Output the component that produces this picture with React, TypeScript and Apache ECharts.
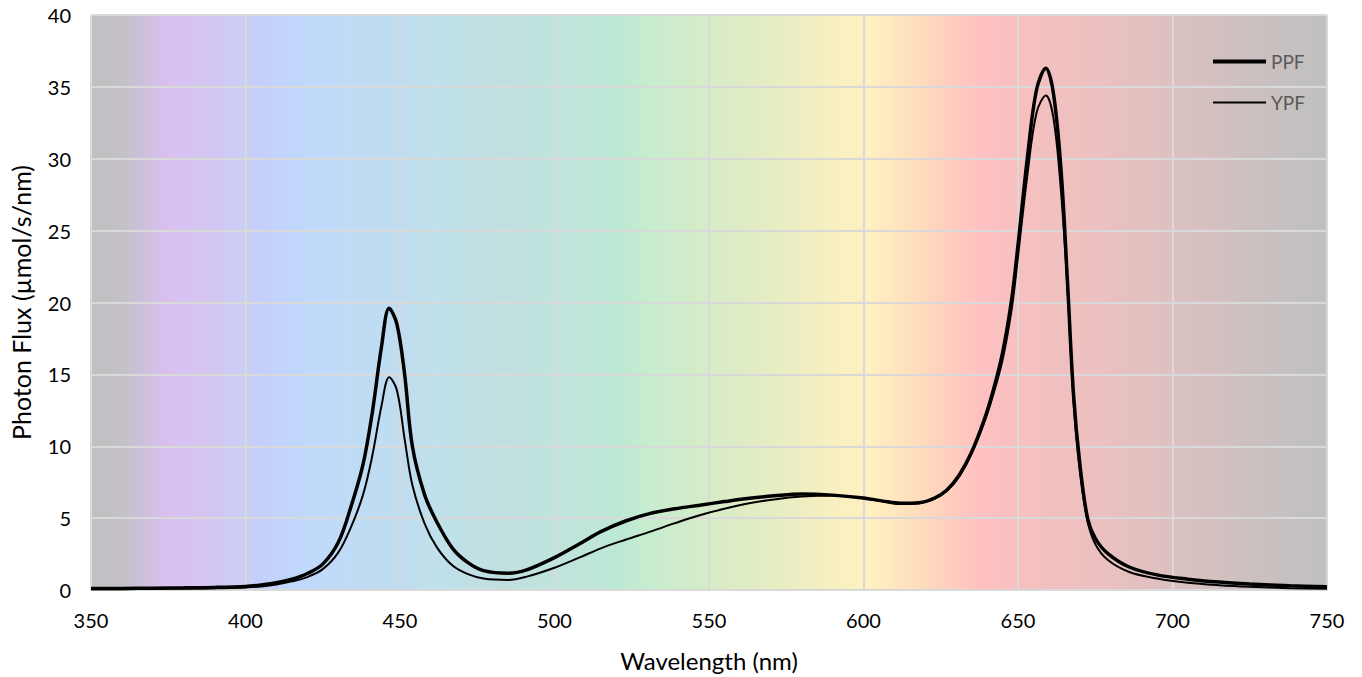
import React, { useEffect, useRef } from "react";
import * as echarts from "echarts";

const wavelengths = [350, 360, 370, 380, 390, 400, 405, 410, 415, 420, 425, 430, 434, 438, 441, 444, 446.5, 449, 451.5, 454, 458, 462, 467, 472, 477, 485, 491, 500, 508, 515, 523, 531, 539, 547, 555, 563, 571, 580, 590, 600, 606, 612, 618, 623, 627, 631, 635, 639, 642, 645, 648, 650, 653, 656, 659, 661.5, 664, 666, 668, 670, 672.5, 675, 679, 686, 695, 705, 715, 725, 738, 750];

const ppf = [0.1, 0.11, 0.13, 0.15, 0.18, 0.25, 0.35, 0.5, 0.75, 1.15, 1.8, 3.3, 5.7, 8.7, 12.3, 16.9, 19.6, 18.5, 15.0, 10.0, 6.6, 4.7, 2.9, 1.9, 1.35, 1.17, 1.4, 2.25, 3.2, 4.06, 4.8, 5.33, 5.65, 5.9, 6.15, 6.38, 6.55, 6.68, 6.6, 6.4, 6.2, 6.03, 6.07, 6.4, 6.96, 8.0, 9.6, 11.8, 13.9, 16.5, 20.3, 24.0, 30.0, 34.8, 36.3, 34.5, 29.0, 21.5, 13.5, 8.8, 5.0, 3.6, 2.55, 1.6, 1.05, 0.75, 0.55, 0.42, 0.3, 0.22];

const ypf = [0.05, 0.06, 0.07, 0.09, 0.12, 0.18, 0.25, 0.38, 0.6, 0.9, 1.45, 2.6, 4.3, 6.6, 9.3, 12.8, 14.8, 13.9, 10.5, 7.3, 4.6, 2.95, 1.7, 1.1, 0.8, 0.7, 0.93, 1.55, 2.25, 2.9, 3.5, 4.06, 4.65, 5.2, 5.65, 6.03, 6.3, 6.5, 6.58, 6.38, 6.18, 6.0, 6.04, 6.35, 6.9, 7.9, 9.5, 11.6, 13.6, 16.0, 19.6, 23.2, 28.8, 33.2, 34.4, 32.8, 27.5, 21.0, 13.0, 8.3, 4.8, 3.2, 2.1, 1.25, 0.8, 0.5, 0.33, 0.22, 0.13, 0.08];

const seriesNames = ["PPF", "YPF"];
const xTitle = "Wavelength (nm)";
const yTitle = "Photon Flux (µmol/s/nm)";

// spectrum background stops: [wavelength, colour]
const spectrumStops: [number, string][] = [
  [350, "#c0c0c0"], [360, "#c4c0c8"], [369, "#d0c0e0"], [375, "#d8c0f0"], [386, "#d4c4f0"],
  [398, "#ccccf4"], [405, "#c4d0fa"], [418, "#c0d8fc"], [437, "#c0dcf4"], [450, "#c0dcf0"],
  [460, "#c0e0ec"], [483, "#c0e0e0"], [502, "#c0e4dc"], [521, "#bce8d4"], [528, "#c4ecd0"],
  [547, "#d4ecc8"], [563, "#e0ecc4"], [580, "#eeeec2"], [590, "#f8f0c0"], [602, "#fef0c0"],
  [609, "#fee8c0"], [618, "#fedcbc"], [638, "#ffc0c0"], [648, "#f8c0c0"], [683, "#e8c0c0"],
  [702, "#dcc0c0"], [725, "#ccc0c0"], [741, "#c4c0c0"], [750, "#c0c0c0"],
];

const FONT = "Lato";

export default function App() {
  const ref = useRef<HTMLDivElement>(null);
  useEffect(() => {
    if (!ref.current) return;
    const chart = echarts.init(ref.current, null, { renderer: "svg" });
    const xmin = 350, xmax = 750;
    const grad = new echarts.graphic.LinearGradient(
      0, 0, 1, 0,
      spectrumStops.map(([w, c]) => ({ offset: (w - xmin) / (xmax - xmin), color: c }))
    );
    const legendText = { color: "#595959", fontSize: 19, fontFamily: FONT };
    chart.setOption({
      animation: false,
      backgroundColor: "#ffffff",
      textStyle: { fontFamily: FONT, fontSize: 20 },
      grid: {
        left: 90, right: 35, top: 15, bottom: 87,
        show: true, backgroundColor: grad, borderWidth: 0,
      },
      legend: [
        {
          left: 1213, top: 52, padding: 0, icon: "rect", itemWidth: 53, itemHeight: 4,
          textStyle: legendText, data: [seriesNames[0]],
        },
        {
          left: 1213, top: 93, padding: 0, icon: "rect", itemWidth: 53, itemHeight: 2,
          textStyle: legendText, data: [seriesNames[1]],
        },
      ],
      xAxis: {
        type: "value",
        min: xmin, max: xmax, interval: 50,
        name: xTitle, nameLocation: "middle", nameGap: 58,
        nameTextStyle: { fontSize: 24, color: "#000", fontFamily: FONT },
        axisLine: { show: true, lineStyle: { color: "#d9d9d9", width: 2 } },
        axisTick: { show: false },
        axisLabel: { fontSize: 20, color: "#000", margin: 20, fontFamily: FONT },
        splitLine: { show: true, lineStyle: { color: "#d9d9d9", width: 2 } },
      },
      yAxis: {
        type: "value",
        min: 0, max: 40, interval: 5,
        name: yTitle, nameLocation: "middle", nameGap: 58,
        nameTextStyle: { fontSize: 25, color: "#000", fontFamily: FONT },
        axisLine: { show: false },
        axisTick: { show: false },
        axisLabel: { fontSize: 20, color: "#000", margin: 20, fontFamily: FONT },
        splitLine: { show: true, lineStyle: { color: "#d9d9d9", width: 2 } },
      },
      series: [
        {
          name: seriesNames[0], type: "line", smooth: 0.35, symbol: "none",
          data: wavelengths.map((w, i) => [w, ppf[i]]),
          lineStyle: { color: "#000", width: 3.5 }, itemStyle: { color: "#000" },
          z: 3,
        },
        {
          name: seriesNames[1], type: "line", smooth: 0.35, symbol: "none",
          data: wavelengths.map((w, i) => [w, ypf[i]]),
          lineStyle: { color: "#000", width: 2 }, itemStyle: { color: "#000" },
          z: 4,
        },
      ],
    });
    return () => chart.dispose();
  }, []);
  return (
    <div
      ref={ref}
      style={{ position: "fixed", left: 0, top: 0, width: 1362, height: 677 }}
    />
  );
}
